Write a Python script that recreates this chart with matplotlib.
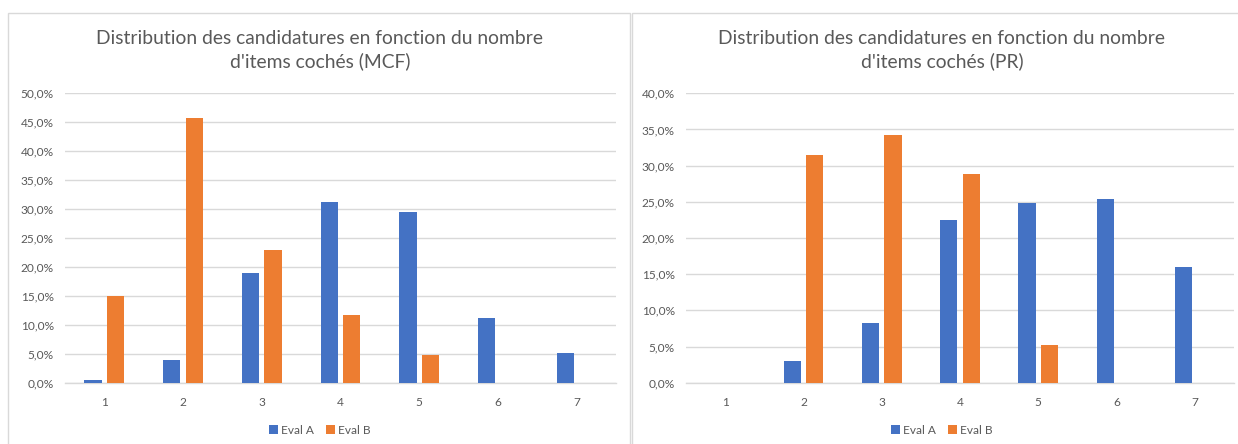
import matplotlib
matplotlib.use("Agg")
import matplotlib.pyplot as plt
from matplotlib.patches import Rectangle
from matplotlib.ticker import FuncFormatter, MultipleLocator
import numpy as np

plt.rcParams['font.family'] = ['Lato', 'DejaVu Sans']

# données (en %)
categories = [1, 2, 3, 4, 5, 6, 7]
mcf_eval_a = [0.5, 3.9, 19.0, 31.1, 29.4, 11.2, 5.2]
mcf_eval_b = [15.0, 45.6, 22.9, 11.7, 4.7, 0.0, 0.0]
pr_eval_a = [0.0, 3.0, 8.3, 22.5, 24.9, 25.4, 16.0]
pr_eval_b = [0.0, 31.5, 34.2, 28.9, 5.2, 0.0, 0.0]

titles = ["Distribution des candidatures en fonction du nombre\nd'items cochés (MCF)",
          "Distribution des candidatures en fonction du nombre\nd'items cochés (PR)"]
series_labels = ["Eval A", "Eval B"]

BLUE = '#4472C4'
ORANGE = '#ED7D31'
GRID = '#d9d9d9'
TEXT = '#595959'

W, H = 1238, 444
fig = plt.figure(figsize=(W / 100, H / 100), dpi=100)

# cadres des deux graphiques
for x0, x1 in [(8, 630), (632, 1254)]:
    fig.patches.append(Rectangle((x0 / W, -0.1), (x1 - x0) / W, (H - 13) / H + 0.1,
                                 transform=fig.transFigure, facecolor='none',
                                 edgecolor=GRID, linewidth=1, zorder=-1))


def pct(v, pos):
    return f"{v:.1f}%".replace('.', ',')


def draw(ax, a, b, ymax, title, cx):
    x = np.array(categories)
    w = 0.22
    off = 0.143
    ax.bar(x - off, a, width=w, color=BLUE, label=series_labels[0], zorder=3)
    ax.bar(x + off, b, width=w, color=ORANGE, label=series_labels[1], zorder=3)
    ax.set_xlim(0.5, 7.5)
    ax.set_ylim(0, ymax)
    ax.yaxis.set_major_locator(MultipleLocator(5))
    ax.yaxis.set_major_formatter(FuncFormatter(pct))
    ax.set_xticks(categories)
    ax.grid(axis='y', color=GRID, linewidth=1, zorder=0)
    ax.set_axisbelow(True)
    for s in ['top', 'right', 'left']:
        ax.spines[s].set_visible(False)
    ax.spines['bottom'].set_color(GRID)
    ax.spines['bottom'].set_linewidth(1)
    ax.tick_params(length=0, colors=TEXT, labelsize=8.6)
    ax.tick_params(axis='y', pad=8)
    ax.tick_params(axis='x', pad=10)
    ax.patch.set_alpha(0)
    fig.text(cx / W, 1 - 50 / H, title, ha='center', va='center',
             fontsize=13.9, color=TEXT, linespacing=1.3)
    ax.legend(loc='center', bbox_to_anchor=(cx / W, 1 - 430 / H),
              bbox_transform=fig.transFigure, ncol=2, frameon=False,
              fontsize=8.6, labelcolor=TEXT, handlelength=0.7, handleheight=0.7,
              handletextpad=0.3, columnspacing=1.0)


ax1 = fig.add_axes([65 / W, 1 - 382.7 / H, 551 / W, 290 / H])
draw(ax1, mcf_eval_a, mcf_eval_b, 50, titles[0], 320)

ax2 = fig.add_axes([686 / W, 1 - 382.7 / H, 548 / W, 289.4 / H])
draw(ax2, pr_eval_a, pr_eval_b, 40, titles[1], 942)

fig.savefig("out.png", dpi=100)
